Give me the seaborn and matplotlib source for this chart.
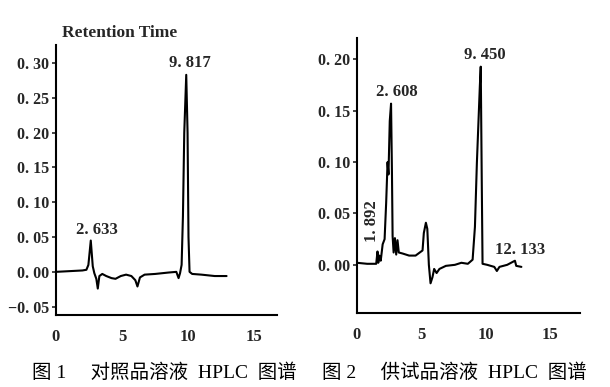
import pandas as pd
import seaborn as sns
import matplotlib.pyplot as plt

# reference solution trace (time in min, absorbance)
ref_time = [0.0, 1.0, 2.0, 2.3, 2.45, 2.63, 2.78, 2.9, 3.05, 3.16, 3.28, 3.5, 3.8,
            4.2, 4.5, 4.9, 5.3, 5.7, 6.0, 6.16, 6.35, 6.7, 7.5, 8.5, 9.1, 9.27,
            9.38, 9.5, 9.6, 9.7, 9.85, 9.95, 10.02, 10.1, 10.3, 11.0, 12.0, 12.9]
ref_abs = [0.000, 0.001, 0.002, 0.003, 0.010, 0.045, 0.008, -0.002, -0.010, -0.024,
           -0.006, -0.003, -0.006, -0.009, -0.010, -0.006, -0.004, -0.006, -0.012,
           -0.021, -0.008, -0.004, -0.003, -0.001, 0.000, -0.009, -0.002, 0.010,
           0.080, 0.200, 0.283, 0.200, 0.050, 0.000, -0.003, -0.004, -0.006, -0.006]

# sample solution trace
smp_time = [0.0, 0.8, 1.5, 1.6, 1.66, 1.75, 1.85, 2.0, 2.15, 2.27, 2.38, 2.45, 2.55,
            2.65, 2.72, 2.77, 2.85, 2.95, 3.05, 3.15, 3.25, 3.55, 4.05, 4.55, 5.09,
            5.19, 5.35, 5.46, 5.58, 5.71, 5.86, 5.99, 6.18, 6.4, 6.9, 7.6, 8.1, 8.6,
            8.97, 9.15, 9.3, 9.53, 9.6, 9.68, 9.74, 10.1, 10.65, 10.85, 11.05,
            11.65, 12.25, 12.35, 12.75]
smp_abs = [0.002, 0.001, 0.001, 0.013, 0.002, 0.009, 0.004, 0.020, 0.025, 0.060,
           0.100, 0.088, 0.140, 0.157, 0.090, 0.028, 0.012, 0.026, 0.010, 0.024,
           0.012, 0.011, 0.009, 0.009, 0.014, 0.031, 0.041, 0.035, 0.000, -0.018,
           -0.012, -0.004, -0.008, -0.004, -0.001, 0.000, 0.002, 0.001, 0.005,
           0.037, 0.099, 0.174, 0.193, 0.080, 0.001, 0.000, -0.002, -0.006, -0.002,
           0.000, 0.004, -0.001, -0.002]

x_ticks = [0, 5, 10, 15]
ref_yticks = [-0.05, 0.00, 0.05, 0.10, 0.15, 0.20, 0.25, 0.30]
ref_ylabels = ["\u22120. 05", "0. 00", "0. 05", "0. 10", "0. 15", "0. 20", "0. 25", "0. 30"]
smp_yticks = [0.00, 0.05, 0.10, 0.15, 0.20]
smp_ylabels = ["0. 00", "0. 05", "0. 10", "0. 15", "0. 20"]

ref_peaks = [("2. 633", 3.07, 0.060), ("9. 817", 10.1, 0.300)]
smp_peaks = [("2. 608", 3.06, 0.1686), ("9. 450", 9.92, 0.2047), ("12. 133", 12.64, 0.0146)]

captions = ["图 1     对照品溶液  HPLC  图谱", "图 2     供试品溶液  HPLC  图谱"]

sns.set_style("white")
plt.rcParams['font.family'] = ['Liberation Serif', 'DejaVu Sans']

fig = plt.figure(figsize=(6.10, 3.87), dpi=100)
ax1 = fig.add_axes([0.0918, 0.186, 0.362, 0.698])
ax2 = fig.add_axes([0.585, 0.191, 0.366, 0.711])

df1 = pd.DataFrame({"t": ref_time, "a": ref_abs})
df2 = pd.DataFrame({"t": smp_time, "a": smp_abs})
sns.lineplot(data=df1, x="t", y="a", ax=ax1, color="black", lw=1.5, sort=False, estimator=None)
sns.lineplot(data=df2, x="t", y="a", ax=ax2, color="black", lw=1.5, sort=False, estimator=None)

for ax, yt, yl in [(ax1, ref_yticks, ref_ylabels), (ax2, smp_yticks, smp_ylabels)]:
    ax.spines[["top", "right"]].set_visible(False)
    for s in ["left", "bottom"]:
        ax.spines[s].set_linewidth(1.5)
        ax.spines[s].set_color("black")
    ax.set_xticks(x_ticks)
    ax.set_xticklabels([str(v) for v in x_ticks], fontsize=12, fontweight="bold")
    ax.set_yticks(yt)
    ax.set_yticklabels(yl, fontsize=11.5, fontweight="bold")
    ax.tick_params(axis="y", direction="out", length=3, width=1.2, pad=2, left=True)
    ax.tick_params(axis="x", length=0, pad=10)
    ax.set_xlabel("")
    ax.set_ylabel("")

ax1.set_xlim(0, 16.7)
ax1.set_ylim(-0.062, 0.326)
ax2.set_xlim(0, 17.3)
ax2.set_ylim(-0.047, 0.221)

for label, x, y in ref_peaks:
    ax1.text(x, y, label, ha="center", va="center", fontsize=12, fontweight="bold")
for label, x, y in smp_peaks:
    ax2.text(x, y, label, ha="center", va="center", fontsize=12, fontweight="bold")
ax2.text(1.16, 0.043, "1. 892", rotation=90, ha="center", va="center",
         fontsize=12, fontweight="bold")

ax1.text(0.45, 0.343, "Retention Time", ha="left", va="center", fontsize=12.5,
         fontweight="bold", clip_on=False)

cap = ['Liberation Serif', 'Noto Sans CJK SC']
fig.text(0.052, 0.037, captions[0], ha="left", va="center",
         fontsize=14, family=cap, color="black")
fig.text(0.528, 0.037, captions[1], ha="left", va="center",
         fontsize=14, family=cap, color="black")

fig.savefig("out.png", dpi=100)
